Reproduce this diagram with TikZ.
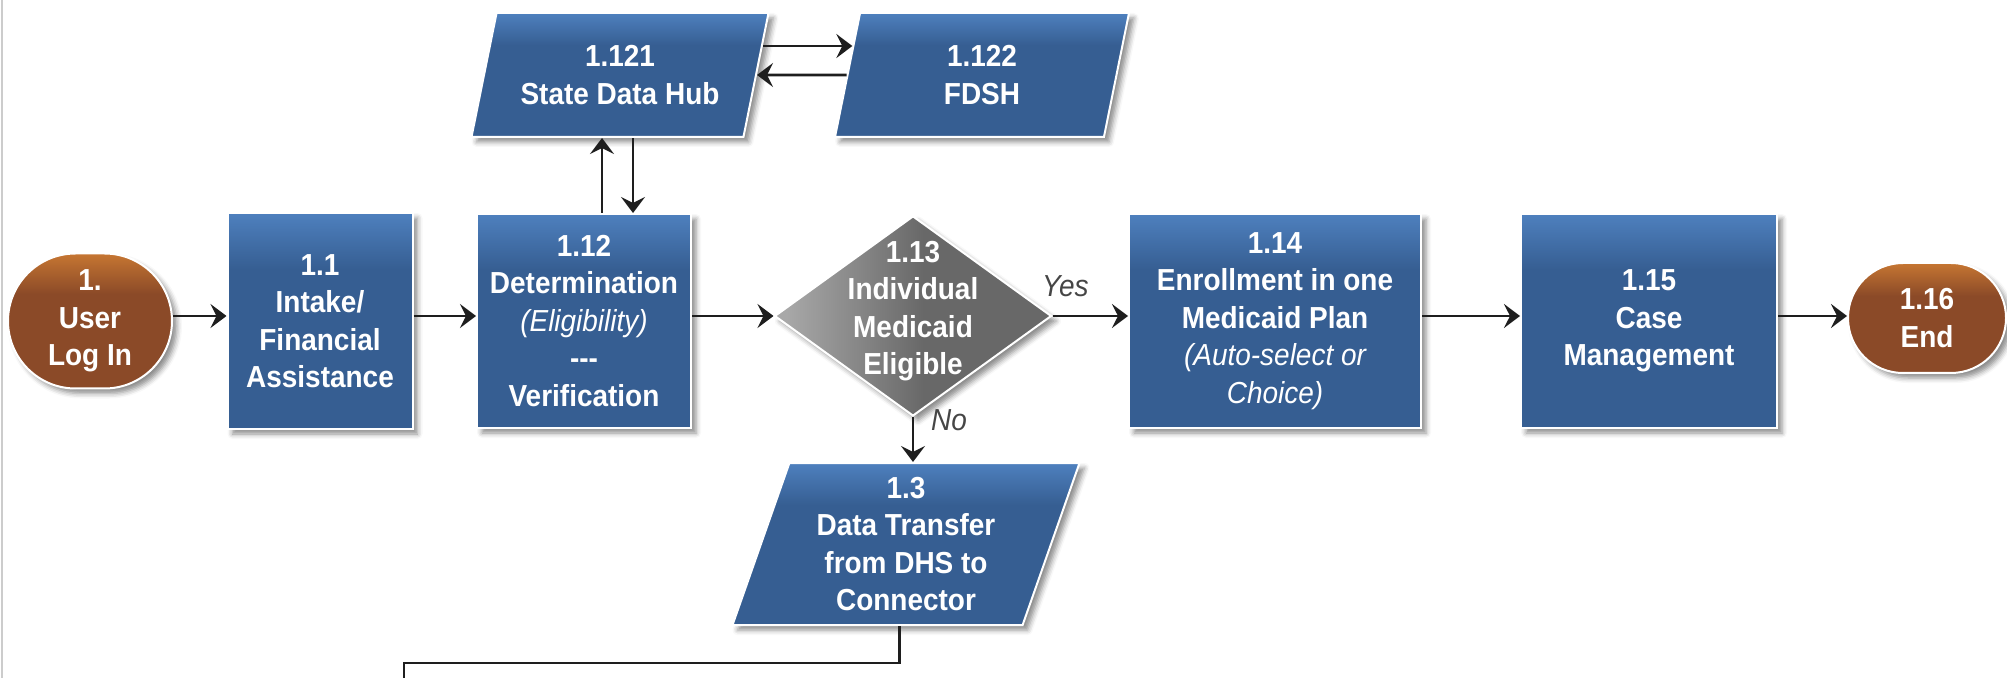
\documentclass[tikz,border=0pt]{standalone}
\usepackage{fontspec}
\setmainfont{Liberation Sans}[FakeStretch=0.92]
\usetikzlibrary{shapes.geometric, shapes.misc, arrows.meta, calc, shadows.blur}

\definecolor{boxtop}{RGB}{78,128,190}
\definecolor{boxbot}{RGB}{54,94,146}
\definecolor{ovaltop}{RGB}{198,118,50}
\definecolor{ovalbot}{RGB}{139,74,40}
\definecolor{diamlight}{RGB}{168,168,168}
\definecolor{diamdark}{RGB}{104,104,104}
\definecolor{linegray}{RGB}{30,30,30}
\definecolor{labelgray}{RGB}{70,70,70}

\pgfdeclareverticalshading{boxshade}{100bp}{color(0bp)=(boxbot); color(62bp)=(boxbot); color(75bp)=(boxtop); color(100bp)=(boxtop)}
\pgfdeclareverticalshading{ovalshade}{100bp}{color(0bp)=(ovalbot); color(60bp)=(ovalbot); color(75bp)=(ovaltop); color(100bp)=(ovaltop)}
\pgfdeclarehorizontalshading{diamshade}{100bp}{color(0bp)=(diamlight); color(27bp)=(diamlight); color(52bp)=(diamdark); color(100bp)=(diamdark)}

\newcommand{\itnote}[1]{{\mdseries\itshape #1}}

\begin{document}
\begin{tikzpicture}[x=0.5pt, y=-0.5pt,
  btext/.style={text=white, font=\bfseries\fontsize{15.2}{18.75}\selectfont, align=center},
  solid/.style={draw=white, line width=1pt, inner sep=0pt,
    blur shadow={shadow xshift=2.5pt, shadow yshift=-2.5pt, shadow blur radius=2.5pt, shadow opacity=45}},
  box/.style={btext, solid, rectangle, shading=boxshade},
  para/.style={btext, solid, trapezium, trapezium left angle=67, trapezium right angle=113,
    trapezium stretches body, shading=boxshade},
  terminal/.style={btext, solid, rounded rectangle, shading=ovalshade},
  decision/.style={solid, diamond, shading=diamshade},
  lbl/.style={text=labelgray, font=\itshape\fontsize{15.2}{18.75}\selectfont},
  line/.style={draw=linegray, line width=1.35pt},
  arr/.style={line, -{Stealth[length=8pt, width=12pt, inset=3pt]}}]
\useasboundingbox (0,0) rectangle (2007,678);
\draw[gray!40, line width=1pt] (2,0) -- (2,678);

\node[terminal, minimum width=82pt, minimum height=67.5pt] (login) at (90,321) {1.\\User\\Log In};
\node[box, minimum width=92.5pt, minimum height=108pt] (intake) at (320,321) {1.1\\Intake/\\Financial\\Assistance};
\node[box, minimum width=107pt, minimum height=107pt] (determ) at (584,321)
  {1.12\\Determination\\\itnote{(Eligibility)}\\-{}-{}-\\Verification};
\node[para, minimum width=148.5pt, minimum height=62pt] (hub) at (620,75) {1.121\\State Data Hub};
\node[para, minimum width=147pt, minimum height=62pt] (fdsh) at (982,75) {1.122\\FDSH};
\node[decision, minimum width=138.5pt, minimum height=100pt,
  label={[btext, yshift=2.5pt]center:1.13\\Individual\\Medicaid\\Eligible}] (elig) at (913,316) {};
\node[box, minimum width=146pt, minimum height=107pt] (enroll) at (1275,321)
  {1.14\\Enrollment in one\\Medicaid Plan\\\itnote{(Auto-select or}\\\itnote{Choice)}};
\node[box, minimum width=128pt, minimum height=107pt] (casemgmt) at (1649,321) {1.15\\Case\\Management};
\node[terminal, minimum width=79pt, minimum height=55pt] (finish) at (1927,318) {1.16\\End};
\node[para, minimum width=173.5pt, minimum height=81pt] (transfer) at (906,544)
  {1.3\\Data Transfer\\from DHS to\\Connector};

% main row, all arrows on the level of the decision
\draw[arr] (login.east |- elig) -- (intake.west |- elig);
\draw[arr] (intake.east |- elig) -- (determ.west |- elig);
\draw[arr] (determ.east |- elig) -- (elig);
\draw[arr] (elig) -- node[lbl, pos=.17, yshift=15pt] (yes) {Yes} (enroll.west |- elig);
\draw[arr] (enroll.east |- elig) -- (casemgmt.west |- elig);
\draw[arr] (casemgmt.east |- elig) -- (finish.west |- elig);
\draw[arr] (elig.south) -- node[lbl, pos=.06, xshift=18pt] (no) {No} (elig.south |- transfer.north);

% data hub links
\coordinate (up) at ($(determ.north)+(18,0)$);
\coordinate (down) at ($(determ.north)+(49,0)$);
\draw[arr] (up) -- (up |- hub.south);
\draw[arr] (down |- hub.south) -- (down);
\draw[arr] ($(hub.top right corner)!.27!(hub.bottom right corner)$)
  -- ($(fdsh.top left corner)!.27!(fdsh.bottom left corner)$);
\draw[arr] (fdsh.west) -- (hub.east);

\coordinate (turn) at (404,663);
\draw[line] ($(transfer.bottom side)+(22,0)$) |- (turn) -- ++(0,17);
\end{tikzpicture}
\end{document}
